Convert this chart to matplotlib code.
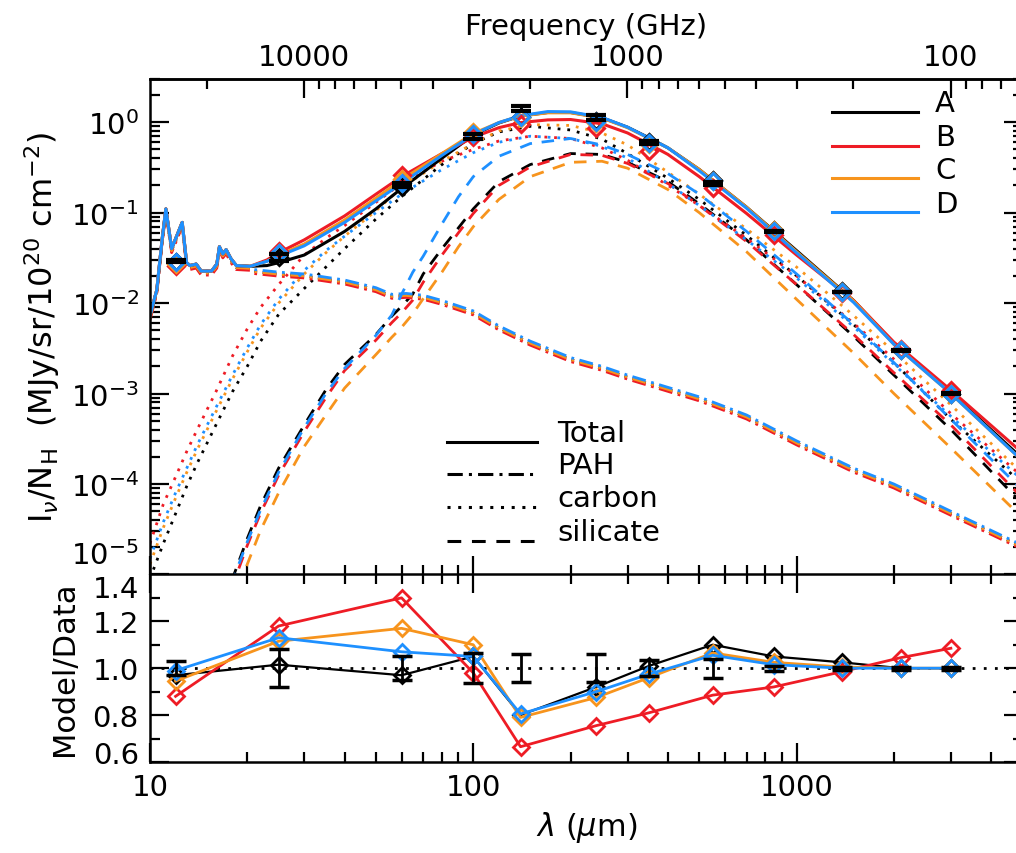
import numpy as np
import matplotlib.pyplot as plt
from matplotlib.ticker import (LogLocator, MultipleLocator, NullFormatter, FuncFormatter,
                               FormatStrFormatter, FixedLocator)
from matplotlib.transforms import offset_copy, ScaledTranslation

plt.rcParams['font.family'] = 'DejaVu Sans'
plt.rcParams['mathtext.fontset'] = 'dejavusans'
plt.rcParams['font.size'] = 21

# ---- photometry: band centres (micron), intensity, fractional error ----
lam_obs = [12, 25, 60, 100, 140, 240, 350, 550, 850, 1380, 2100, 3000]
data_obs = [0.029, 0.032, 0.20, 0.70, 1.42, 1.13, 0.60, 0.21, 0.062, 0.0133, 0.0030, 0.00100]
err_obs = [0.03, 0.08, 0.05, 0.065, 0.06, 0.06, 0.033, 0.04, 0.01, 0.006, 0.006, 0.006]

# model / data in each band
ratio_A = [0.97, 1.015, 0.97, 1.05, 0.80, 0.92, 1.01, 1.10, 1.05, 1.025, 1.0, 1.0]
ratio_B = [0.88, 1.18, 1.30, 0.98, 0.665, 0.755, 0.81, 0.885, 0.92, 0.985, 1.045, 1.085]
ratio_C = [0.945, 1.115, 1.17, 1.10, 0.79, 0.875, 0.96, 1.065, 1.025, 1.005, 1.0, 1.0]
ratio_D = [0.99, 1.13, 1.07, 1.05, 0.805, 0.90, 0.975, 1.055, 1.015, 1.0, 1.0, 1.0]

# ---- model SEDs ----
# mid-IR band structure, shared by the total and PAH curves of all models
lam_feat = [10.0, 10.5, 10.9, 11.2, 11.67, 12.58, 12.98, 13.3, 13.9, 14.4, 15.5,
            16.1, 16.4, 16.8, 17.2, 17.8, 18.5, 20.4]
sed_feat = [0.0072, 0.014, 0.05, 0.11, 0.040, 0.078, 0.028, 0.026, 0.027, 0.0226, 0.0226,
            0.027, 0.042, 0.035, 0.039, 0.031, 0.026, 0.0255]

lam_tot = [23, 25, 30, 40, 50, 60, 80, 100, 120, 140, 170, 200, 250, 300, 350, 400,
           500, 700, 1000, 1500, 2000, 3000, 5000]
total_A = [0.026, 0.028, 0.034, 0.062, 0.11, 0.185, 0.40, 0.72, 0.98, 1.17, 1.28, 1.28, 1.12,
           0.88, 0.67, 0.52, 0.30, 0.115, 0.038, 0.0107, 0.0036, 0.00102, 0.00019]
total_B = [0.030, 0.036, 0.050, 0.092, 0.16, 0.25, 0.45, 0.68, 0.87, 0.99, 1.06, 1.07, 0.96,
           0.76, 0.57, 0.44, 0.25, 0.098, 0.034, 0.0107, 0.0037, 0.00109, 0.00022]
total_C = [0.029, 0.034, 0.045, 0.083, 0.145, 0.23, 0.45, 0.75, 0.99, 1.17, 1.27, 1.27, 1.11,
           0.87, 0.66, 0.52, 0.30, 0.115, 0.037, 0.0106, 0.0035, 0.00100, 0.00018]
total_D = [0.029, 0.033, 0.043, 0.078, 0.135, 0.21, 0.43, 0.73, 0.99, 1.18, 1.31, 1.30, 1.13,
           0.88, 0.665, 0.52, 0.29, 0.112, 0.036, 0.0102, 0.0035, 0.00100, 0.00018]

lam_pah = [21, 25, 30, 40, 50, 56, 62, 70, 80, 100, 120, 150, 200, 250, 300, 500, 700,
           1000, 1500, 2000, 3000, 5000]
pah_sed = [0.0235, 0.022, 0.021, 0.018, 0.0148, 0.0125, 0.0128, 0.0122, 0.0107, 0.0082, 0.0056,
           0.0038, 0.0025, 0.0020, 0.0016, 0.00092, 0.00058, 0.00030, 0.00015, 0.000100,
           0.000050, 0.000021]

lam_car = [10, 11, 12, 13, 14, 16, 18, 20, 22, 25, 30, 35, 40, 50, 60, 80, 100, 120, 150,
           200, 250, 300, 400, 500, 700, 1000, 1500, 2000, 3000, 5000]
carbon_A = [9e-6, 2.2e-5, 4.7e-5, 9.5e-5, 1.7e-4, 4.5e-4, 1.05e-3, 2.0e-3, 3.8e-3, 7.5e-3,
            0.0145, 0.025, 0.040, 0.085, 0.15, 0.34, 0.58, 0.78, 0.90, 0.82, 0.65, 0.45,
            0.24, 0.14, 0.056, 0.020, 0.0058, 0.0022, 0.00052, 0.00010]
carbon_B = [2.2e-5, 6e-5, 1.2e-4, 2.3e-4, 4e-4, 1.05e-3, 2.6e-3, 5.2e-3, 9.0e-3, 0.016,
            0.034, 0.052, 0.072, 0.13, 0.21, 0.37, 0.50, 0.62, 0.70, 0.66, 0.52, 0.38,
            0.20, 0.12, 0.052, 0.020, 0.0060, 0.0024, 0.00060, 0.00012]
carbon_C = [1.3e-5, 3.3e-5, 7e-5, 1.35e-4, 2.4e-4, 6.3e-4, 1.45e-3, 2.9e-3, 5.3e-3, 0.010,
            0.021, 0.036, 0.055, 0.105, 0.19, 0.37, 0.58, 0.80, 0.94, 0.92, 0.76, 0.56,
            0.28, 0.16, 0.066, 0.025, 0.0073, 0.0029, 0.00075, 0.00013]
carbon_D = [1.5e-5, 3.8e-5, 8e-5, 1.5e-4, 2.7e-4, 7e-4, 1.6e-3, 3.2e-3, 5.8e-3, 0.011,
            0.023, 0.038, 0.055, 0.10, 0.16, 0.30, 0.46, 0.60, 0.70, 0.66, 0.54, 0.40,
            0.21, 0.12, 0.050, 0.019, 0.0055, 0.0021, 0.00056, 0.00011]

lam_sil = [17, 18, 20, 22, 25, 30, 35, 40, 50, 56, 60, 65, 70, 80, 90, 100, 120, 150, 200,
           250, 300, 400, 500, 700, 1000, 1500, 2000, 3000, 5000]
silicate_A = [5e-6, 9e-6, 2.5e-5, 5.8e-5, 1.5e-4, 4.5e-4, 1.1e-3, 2.1e-3, 4.5e-3, 7.2e-3,
              9.2e-3, 0.0126, 0.021, 0.040, 0.068, 0.11, 0.22, 0.34, 0.45, 0.44, 0.36, 0.22,
              0.125, 0.050, 0.016, 0.0043, 0.0016, 0.00040, 6e-5]
silicate_B = [4e-6, 7.5e-6, 2.1e-5, 4.8e-5, 1.25e-4, 3.8e-4, 9e-4, 1.8e-3, 3.9e-3, 6.1e-3,
              7.8e-3, 0.0108, 0.017, 0.034, 0.060, 0.098, 0.20, 0.32, 0.44, 0.43, 0.35, 0.21,
              0.12, 0.048, 0.016, 0.0045, 0.0017, 0.00045, 7e-5]
silicate_C = [2.5e-6, 4.8e-6, 1.3e-5, 3.1e-5, 8e-5, 2.6e-4, 5.8e-4, 1.15e-3, 2.7e-3, 4.2e-3,
              5.4e-3, 7.6e-3, 0.0112, 0.022, 0.042, 0.07, 0.14, 0.25, 0.36, 0.37, 0.31, 0.18,
              0.10, 0.037, 0.011, 0.0028, 0.0010, 0.00025, 4.2e-5]
silicate_D = [4.5e-6, 8.5e-6, 2.3e-5, 5.2e-5, 1.35e-4, 4.2e-4, 1.0e-3, 1.9e-3, 4.4e-3, 7.4e-3,
              0.0125, 0.022, 0.033, 0.075, 0.15, 0.25, 0.42, 0.58, 0.66, 0.56, 0.44, 0.27,
              0.16, 0.062, 0.021, 0.0058, 0.0022, 0.00052, 8.5e-5]

names = ['A', 'B', 'C', 'D']
colors = ['black', '#ee1c25', '#f7941d', '#1e90ff']
totals = [total_A, total_B, total_C, total_D]
carbons = [carbon_A, carbon_B, carbon_C, carbon_D]
silicates = [silicate_A, silicate_B, silicate_C, silicate_D]
ratios = [ratio_A, ratio_B, ratio_C, ratio_D]
pah_shift = [-2, -4, -2, 0]   # PAH curves sit on top of each other; nudge them apart a little

DASHDOT = (0, (5, 2, 1, 2))
DOTTED = (0, (1, 2.5))
DASHED = (0, (4.5, 3.5))

fig = plt.figure(figsize=(10.16, 8.54), dpi=100)
ax = fig.add_axes([0.1476, 0.3261, 0.8589, 0.5802])
ax2 = fig.add_axes([0.1476, 0.1066, 0.8589, 0.2196], sharex=ax)

# components first, totals over them
for k in range(4):
    c = colors[k]
    tr = offset_copy(ax.transData, fig=fig, x=0, y=pah_shift[k], units='dots')
    ax.plot(lam_feat + lam_pah, sed_feat + pah_sed, color=c, lw=2, ls=DASHDOT, transform=tr)
    ax.plot(lam_car, carbons[k], color=c, lw=2, ls=DOTTED)
    ax.plot(lam_sil, silicates[k], color=c, lw=2, ls=DASHED)
for k in range(4):
    ax.plot(lam_feat + lam_tot, sed_feat + totals[k], color=colors[k], lw=2.2)

# band-averaged model points and the data
for k in range(4):
    model = np.array(ratios[k]) * np.array(data_obs)
    ax.plot(lam_obs, model, ls='none', marker='D', ms=8.5, mfc='none', mec=colors[k], mew=2.2)
data = np.array(data_obs)
ax.errorbar(lam_obs, data, yerr=data * np.array(err_obs), fmt='none', ecolor='k',
            elinewidth=2, capsize=7, capthick=3, zorder=5)

ax.set_xscale('log')
ax.set_yscale('log')
ax.set_xlim(10, 5000)
ax.set_ylim(1e-5, 3)
ax.set_ylabel(r'I$_{\nu}$/N$_{\rm H}$  (MJy/sr/10$^{20}$ cm$^{-2}$)', fontsize=23, labelpad=6)
ax.yaxis.set_major_locator(FixedLocator([1e-5, 1e-4, 1e-3, 1e-2, 1e-1, 1]))
ax.yaxis.set_minor_locator(LogLocator(base=10, subs=np.arange(2, 10), numticks=10))
ax.yaxis.set_minor_formatter(NullFormatter())
ax.tick_params(axis='x', which='both', labelbottom=False, top=False)

# frequency scale on top
def lam_to_nu(lam):
    lam = np.asarray(lam, dtype=float)
    with np.errstate(divide='ignore'):
        return 299792.458 / lam

secax = ax.secondary_xaxis('top', functions=(lam_to_nu, lam_to_nu))
secax.set_xlabel('Frequency (GHz)', fontsize=21, labelpad=6)
secax.xaxis.set_major_locator(FixedLocator([100, 1000, 10000]))
secax.xaxis.set_minor_locator(FixedLocator(
    [m * d for d in (10, 100, 1000, 10000) for m in range(2, 10)]))
secax.xaxis.set_major_formatter(FuncFormatter(lambda v, p: f'{v:g}'))
secax.xaxis.set_minor_formatter(NullFormatter())
secax.tick_params(which='major', direction='in', length=14, width=1.6, labelsize=21, pad=6)
secax.tick_params(which='minor', direction='in', length=7, width=1.6)
secax.spines['top'].set_linewidth(1.8)

# legend for the four models
lx0, lx1 = 0.7816, 0.880
for k, ly in enumerate([0.9334, 0.8648, 0.7993, 0.7307]):
    ax.plot([lx0, lx1], [ly, ly], color=colors[k], lw=2.2, transform=ax.transAxes)
    ax.text(0.8996, ly + 0.018, names[k], transform=ax.transAxes, fontsize=21,
            va='center', ha='left')

# legend for the components
sx0, sx1 = 0.3404, 0.4435
for ly, ls, lab in zip([0.2674, 0.2028, 0.1362, 0.0676], ['-', DASHDOT, DOTTED, DASHED],
                       ['Total', 'PAH', 'carbon', 'silicate']):
    ax.plot([sx0, sx1], [ly, ly], color='k', lw=2.2, ls=ls, transform=ax.transAxes)
    ax.text(0.4664, ly + 0.018, lab, transform=ax.transAxes, fontsize=21,
            va='center', ha='left')

# ---- residual panel ----
ax2.axhline(1.0, color='k', lw=2, ls=(0, (1, 3)))
for k in range(4):
    ax2.plot(lam_obs, ratios[k], color=colors[k], lw=1.6 if k == 0 else 2,
             marker='D', ms=8.5, mfc='none', mec=colors[k], mew=2)
ax2.errorbar(lam_obs, np.ones(len(lam_obs)), yerr=err_obs, fmt='none', ecolor='k',
             elinewidth=2, capsize=7, capthick=2.5, zorder=5)
ax2.set_ylim(0.6, 1.4)
ax2.set_xlim(10, 5000)
ax2.yaxis.set_major_locator(FixedLocator([0.6, 0.8, 1.0, 1.2, 1.4]))
ax2.yaxis.set_minor_locator(MultipleLocator(0.1))
ax2.yaxis.set_major_formatter(FormatStrFormatter('%.1f'))
ax2.xaxis.set_major_locator(FixedLocator([10, 100, 1000]))
ax2.xaxis.set_minor_locator(LogLocator(base=10, subs=np.arange(2, 10), numticks=10))
ax2.xaxis.set_major_formatter(FuncFormatter(lambda v, p: f'{v:g}'))
ax2.xaxis.set_minor_formatter(NullFormatter())
ax2.set_xlabel(r'$\lambda$ ($\mu$m)', fontsize=22, labelpad=6)
ax2.set_ylabel('Model/Data', fontsize=22, labelpad=10)

for a in (ax, ax2):
    a.tick_params(which='major', direction='in', length=14, width=1.6, labelsize=21,
                  right=True, pad=8)
    a.tick_params(which='minor', direction='in', length=7, width=1.6, right=True)
    for s in a.spines.values():
        s.set_linewidth(1.8)
ax2.tick_params(which='both', top=True)
ax.tick_params(which='both', top=False)

# keep the end labels of the two y axes clear of the shared border
fig.canvas.draw()
def nudge(axis, loc, dy_px):
    for t in axis.get_major_ticks():
        if np.isclose(t.get_loc(), loc):
            t.label1.set_transform(t.label1.get_transform()
                                   + ScaledTranslation(0, dy_px / fig.dpi, fig.dpi_scale_trans))

nudge(ax.yaxis, 1e-5, 22)
nudge(ax2.yaxis, 1.4, -12)
nudge(ax2.yaxis, 0.6, 10)

fig.savefig('out.png', dpi=100)
